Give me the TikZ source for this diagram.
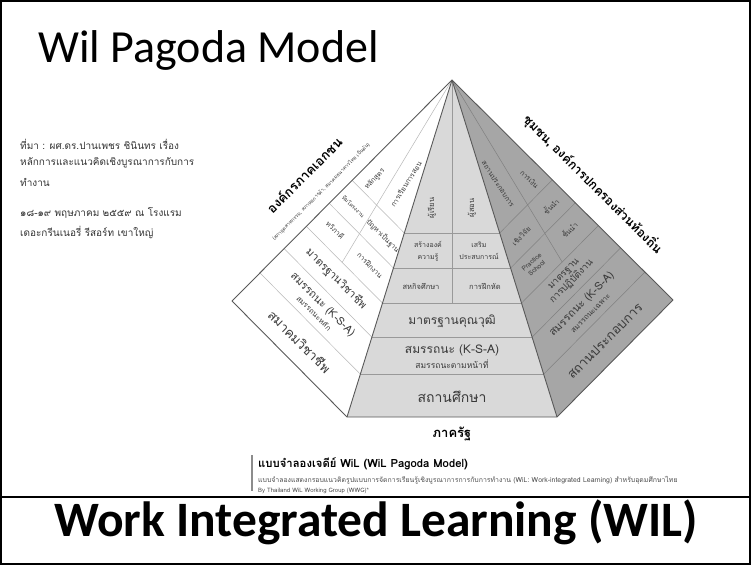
\documentclass[tikz,border=0pt]{standalone}
\usepackage{fontspec}
\setmainfont[Script=Thai]{Loma}
\newfontfamily\carlito{Carlito}
\usetikzlibrary{calc}
\newcommand\fsz[2]{\fontsize{#1}{#2}\selectfont}
\definecolor{facec}{HTML}{D9D9D9}
\definecolor{faced}{HTML}{A6A6A6}
\definecolor{txt}{HTML}{3A3A3A}
\begin{document}
\begin{tikzpicture}[x=1pt,y=-1pt,
  edge/.style={draw=black!65, line width=0.9pt},
  gridl/.style={draw=black!28, line width=0.5pt},
  gridc/.style={draw=black!40, line width=0.5pt},
  gridd/.style={draw=black!50, line width=0.5pt},
  ft/.style={text=txt, inner sep=0pt, align=center},
  side/.style={text=black!80, inner sep=0pt, anchor=west, font=\fsz{10}{11}}]
\useasboundingbox (0,0) rectangle (751,565);
% frame
\draw[line width=2pt] (1,1) rectangle (750,564);
\draw[line width=1.5pt] (0,497) -- (751,497);
% title
\node[anchor=base west, inner sep=0pt, font=\carlito\fsz{46}{50}] (title) at (38,62) {Wil Pagoda Model};
\node[anchor=base, inner sep=0pt, font=\carlito\bfseries\fsz{49.5}{52}] (wil) at (376,536) {Work Integrated Learning (WIL)};
% source text
\node[side] (s1) at (20,144) {ที่มา : ผศ.ดร.ปานเพชร ชินินทร เรื่อง};
\node[side] (s2) at (20,163) {หลักการและแนวคิดเชิงบูรณาการกับการ};
\node[side] (s3) at (20,182) {ทำงาน};
\node[side] (s4) at (20,213) {๑๘-๑๙ พฤษภาคม ๒๕๕๙ ณ โรงแรม};
\node[side] (s5) at (20,232) {เดอะกรีนเนอรี่ รีสอร์ท เขาใหญ่};
% pyramid corners
\coordinate (A) at (452,80);
\coordinate (L) at (232,301);
\coordinate (B1) at (347,417);
\coordinate (B2) at (557,417);
\coordinate (R) at (673,300);
\coordinate (Lc) at ($(L)!0.5!(B1)$);
\coordinate (Rc) at ($(R)!0.5!(B2)$);
\coordinate (Cc) at ($(B1)!0.5!(B2)$);
\coordinate (Lm) at ($(L)!0.47!(B1)$);
\coordinate (Rm) at ($(R)!0.47!(B2)$);
\coordinate (Lo) at ($(L)!0.235!(B1)$);
\coordinate (Li) at ($(L)!0.735!(B1)$);
\coordinate (Ro) at ($(R)!0.235!(B2)$);
\coordinate (Ri) at ($(R)!0.735!(B2)$);
% faces
\fill[white] (A) -- (L) -- (B1) -- cycle;
\fill[facec] (A) -- (B1) -- (B2) -- cycle;
\fill[faced] (A) -- (B2) -- (R) -- cycle;
% bands
\foreach \t in {0.454,0.558,0.662,0.763,0.873}{
  \draw[gridl] ($(A)!\t!(L)$) -- ($(A)!\t!(B1)$);
  \draw[gridc] ($(A)!\t!(B1)$) -- ($(A)!\t!(B2)$);
  \draw[gridd] ($(A)!\t!(B2)$) -- ($(A)!\t!(R)$);
}
\draw[gridl] (A) -- ($(A)!0.662!(Lm)$);
\draw[gridc] (A) -- ($(A)!0.662!(Cc)$);
\draw[gridd] (A) -- ($(A)!0.662!(Rm)$);
% outline
\draw[edge, line join=round] (A) -- (L) -- (B1) -- (B2) -- (R) -- cycle;
\draw[edge] (A) -- (B1);
\draw[edge] (A) -- (B2);
% central face texts
\node[ft, rotate=90, font=\fsz{7.5}{9}] (c1) at (432,208) {ผู้เรียน};
\node[ft, rotate=90, font=\fsz{7.5}{9}] (c2) at (472,208) {ผู้สอน};
\node[ft, font=\fsz{7}{12}] (c3) at (428,251) {สร้างองค์\\ความรู้};
\node[ft, font=\fsz{7}{12}] (c4) at (479,251) {เสริม\\ประสบการณ์};
\node[ft, font=\fsz{7.5}{9}] (c5) at (421,286) {สหกิจศึกษา};
\node[ft, font=\fsz{7.5}{9}] (c6) at (485,286) {การฝึกหัด};
\node[ft, font=\fsz{12}{14}] (c7) at (452,321) {มาตรฐานคุณวุฒิ};
\node[ft, font=\fsz{12}{14}] (c8) at (452,350) {สมรรถนะ (K-S-A)};
\node[ft, font=\fsz{8.5}{10}] (c9) at (452,364) {สมรรถนะตามหน้าที่};
\node[ft, font=\fsz{14}{16}] (c10) at (452,397) {สถานศึกษา};
\node[ft, text=black, font=\bfseries\fsz{13}{15}] (c11) at (452,434) {ภาครัฐ};
% outer labels
\node[ft, text=black, rotate=45, font=\bfseries\fsz{13}{15}] (lab1) at (304,175) {องค์กรภาคเอกชน};
\node[ft, rotate=45, font=\fsz{5}{6}] (lab2) at (321,192) {(สภาอุตสาหกรรม, สภาหอการค้า, สมาคมธนาคารไทย เป็นต้น)};
\node[ft, text=black, rotate=-45, font=\bfseries\fsz{12.5}{15}] (lab3) at (593,184) {ชุมชน, องค์การปกครองส่วนท้องถิ่น};
% left face texts
\node[ft, rotate=-45, font=\fsz{13}{15}] (l1) at ($(A)!0.937!(Lc)$) {สมาคมวิชาชีพ};
\node[ft, rotate=-45] (l2) at ($(A)!0.818!(Lc)$) {{\fsz{11}{11}สมรรถนะ (K-S-A)}\\{\fsz{7.5}{8}สมรรถนะหลัก}};
\node[ft, rotate=-45, font=\fsz{11}{13}] (l3) at ($(A)!0.7125!(Lc)$) {มาตรฐานวิชาชีพ};
\node[ft, rotate=47, font=\fsz{7}{8}] (l4) at ($(A)!0.40!(Lo)$) {หลักสูตร};
\node[ft, rotate=58, font=\fsz{7}{8}] (l5) at ($(A)!0.34!(Li)$) {การเรียนการสอน};
\node[ft, rotate=-45, font=\fsz{5.5}{6.5}] (l6) at ($(A)!0.51!(Lo)$) {ทีมโครงงาน};
\node[ft, rotate=-45, font=\fsz{7}{8}] (l7) at ($(A)!0.605!(Lo)$) {ทวิภาคี};
\node[ft, rotate=-45, font=\fsz{7}{8}] (l8) at ($(A)!0.51!(Li)$) {ปัญหาเป็นฐาน};
\node[ft, rotate=-45, font=\fsz{7}{8}] (l9) at ($(A)!0.605!(Li)$) {การฝึกงาน};
% right face texts
\node[ft, rotate=45, font=\fsz{13}{15}] (r1) at ($(A)!0.937!(Rc)$) {สถานประกอบการ};
\node[ft, rotate=45] (r2) at ($(A)!0.818!(Rc)$) {{\fsz{11}{11}สมรรถนะ (K-S-A)}\\{\fsz{7.5}{8}สมรรถนะเฉพาะ}};
\node[ft, rotate=45, font=\fsz{9.5}{10}] (r3) at ($(A)!0.7125!(Rc)$) {มาตรฐาน\\การปฏิบัติงาน};
\node[ft, rotate=-45, font=\fsz{7}{8}] (r4) at ($(A)!0.40!(Ro)$) {การเงิน};
\node[ft, rotate=-57, font=\fsz{7}{8}] (r5) at ($(A)!0.34!(Ri)$) {สถานประกอบการ};
\node[ft, rotate=45, font=\fsz{7}{8}] (r6) at ($(A)!0.51!(Ro)$) {ชั้นนำ};
\node[ft, rotate=45, font=\fsz{7}{8}] (r7) at ($(A)!0.605!(Ro)$) {ชั้นนำ};
\node[ft, rotate=45, font=\fsz{7}{8}] (r8) at ($(A)!0.51!(Ri)$) {เชิงวิจัย};
\node[ft, rotate=40, font=\fsz{6.5}{8}] (r9) at ($(A)!0.605!(Ri)$) {Practice\\School};
% caption
\draw[black!45, line width=1.5pt] (252,455) -- (252,491);
\node[anchor=west, inner sep=0pt, font=\bfseries\fsz{11.3}{12}] (cap1) at (258,464) {แบบจำลองเจดีย์ WiL (WiL Pagoda Model)};
\node[anchor=west, inner sep=0pt, text=black!70, font=\fsz{6.9}{7}] (cap2) at (258,480) {แบบจำลองแสดงกรอบแนวคิดรูปแบบการจัดการเรียนรู้เชิงบูรณาการการกับการทำงาน (WiL: Work-integrated Learning) สำหรับอุดมศึกษาไทย};
\node[anchor=west, inner sep=0pt, text=black!70, font=\fsz{6}{7}] (cap3) at (258,491) {By Thailand WiL Working Group (WWG)*};
\end{tikzpicture}
\end{document}
